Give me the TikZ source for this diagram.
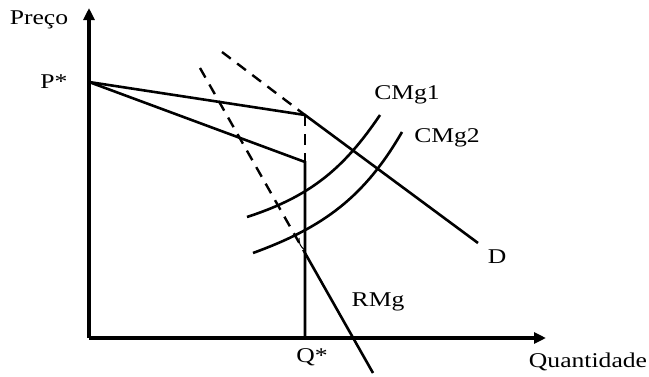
\documentclass[tikz,border=0pt]{standalone}
\usepackage{fontspec}
\setmainfont{Liberation Serif}
\usetikzlibrary{arrows.meta}
\begin{document}
\begin{tikzpicture}[x=1pt,y=1pt,
  axis/.style={line width=3.2pt,-{Triangle[length=12pt,width=11pt]}},
  curve/.style={line width=2.6pt},
  dashline/.style={line width=2.4pt,dash pattern=on 11pt off 8pt},
  lbl/.style={font=\fontsize{21}{22}\selectfont,xscale=1.22,inner sep=0pt}]
\useasboundingbox (0,0) rectangle (649,376);
\coordinate (O) at (89,38);
\coordinate (Ytop) at (89,368);
\coordinate (Xend) at (546,38);
\coordinate (P) at (89,294);
\coordinate (K) at (305,261);
\coordinate (M) at (305,214);
\coordinate (Dend) at (478,133);
\coordinate (Qb) at (305,38);
\coordinate (R1) at (305,123);
\coordinate (Rend) at (373,3);
\coordinate (Rd) at (200,308);
\coordinate (Dd) at (222,324);
\coordinate (C1a) at (247,159);
\coordinate (C1b) at (380,261);
\coordinate (C2a) at (253,123);
\coordinate (C2b) at (402,244);
\coordinate (A1) at (299,138);
\coordinate (A2) at (305,126);
% axes
\draw[axis] (O) -- (Ytop);
\draw[axis] (O) -- (Xend);
% demand
\draw[curve] (P) -- (K) -- (Dend);
% marginal revenue
\draw[curve] (P) -- (M) -- (Qb);
\draw[dashline] (K) -- (M);
\draw[curve] (R1) -- (Rend);
% dashed extensions
\draw[dashline] (Rd) -- (R1);
\draw[dashline] (Dd) -- (K);
\draw[line width=1pt] (A1) to[bend right=30] (A2);
% marginal cost curves
\draw[curve] (C1a) to[out=18,in=236] (C1b);
\draw[curve] (C2a) to[out=20,in=240] (C2b);
% labels
\node[lbl] (preco) at (39,356) {Preço};
\node[lbl] (pstar) at (54,294) {P*};
\node[lbl] (cmg1) at (407,281) {CMg1};
\node[lbl] (cmg2) at (447,238) {CMg2};
\node[lbl] (d) at (497,119) {D};
\node[lbl] (rmg) at (378,74) {RMg};
\node[lbl] (qstar) at (312,19) {Q*};
\node[lbl] (quant) at (588,14) {Quantidade};
\end{tikzpicture}
\end{document}
